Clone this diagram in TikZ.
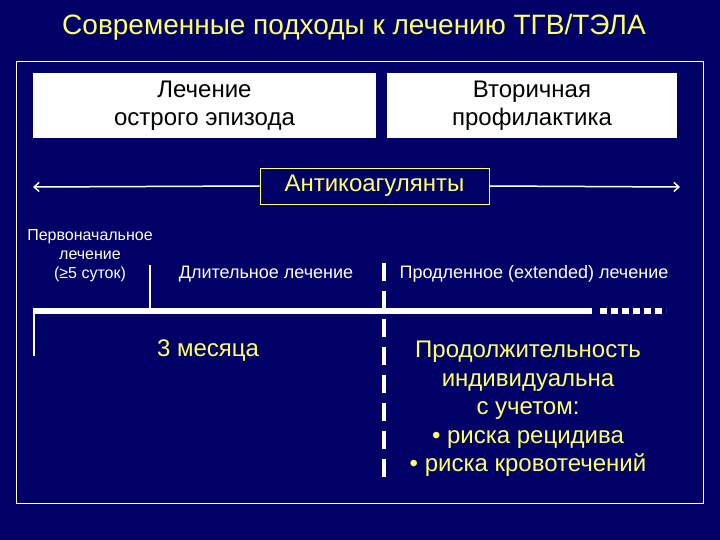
\documentclass[tikz,border=0pt]{standalone}
\usepackage{fontspec}
\usetikzlibrary{arrows.meta}
\setmainfont{Liberation Sans}
\definecolor{bg}{HTML}{000066}
\definecolor{yel}{HTML}{FFFF66}
\begin{document}
\begin{tikzpicture}[x=1pt,y=-1pt,
  wbox/.style={fill=white,draw=none,text=black,font=\fontsize{24}{28}\selectfont,align=center,inner sep=0pt},
  wt/.style={text=white,align=center},
  yt/.style={text=yel,align=center}]
\fill[bg] (0,0) rectangle (720,540);
\useasboundingbox (0,0) rectangle (720,540);
\node[yt,font=\fontsize{28}{32}\selectfont] (title) at (354,27) {Современные подходы к лечению ТГВ/ТЭЛА};
\draw[white,line width=0.8pt] (16,61) rectangle (703,503);
\node[wbox,minimum width=343,minimum height=65] (b1) at (204.5,105.5) {Лечение\\острого эпизода};
\node[wbox,minimum width=290,minimum height=65] (b2) at (532,105.5) {Вторичная\\профилактика};
\node[draw=yel,line width=0.8pt,yt,font=\fontsize{24}{28}\selectfont,minimum width=229,minimum height=36,inner sep=0pt] (ac) at (374.5,186) {Антикоагулянты};
\coordinate (al) at (33,187); \coordinate (ar) at (680,187);
\draw[white,line width=1.5pt,-{Straight Barb[length=5pt,width=9pt]}] (ac.west) -- (al);
\draw[white,line width=1.5pt,-{Straight Barb[length=5pt,width=9pt]}] (ac.east) -- (ar);
\node[wt,font=\fontsize{16}{19}\selectfont] (init) at (90,256) {Первоначальное\\лечение\\(≥5 суток)};
\node[wt,font=\fontsize{18}{21}\selectfont] (long) at (266,274) {Длительное лечение};
\node[wt,font=\fontsize{18}{21}\selectfont] (ext) at (534,274) {Продленное (extended) лечение};
\coordinate (m0) at (34,311); \coordinate (m1) at (592,311); \coordinate (m2) at (666,311);
\draw[white,line width=6pt] (m0) -- (m1);
\draw[white,line width=6pt,dash pattern=on 7pt off 4pt] (600,311) -- (m2);
\draw[white,line width=1.5pt] (34,308) -- (34,356);
\draw[white,line width=1.5pt] (150,265) -- (150,311);
\draw[white,line width=3.5pt,dash pattern=on 18pt off 10pt] (384,263) -- (384,486);
\node[yt,font=\fontsize{24}{28}\selectfont] (three) at (208,351) {3 месяца};
\node[yt,font=\fontsize{24}{28.5}\selectfont] (dur) at (528,409) {Продолжительность\\индивидуальна\\с учетом:\\• риска рецидива\\• риска кровотечений};
\end{tikzpicture}
\end{document}
